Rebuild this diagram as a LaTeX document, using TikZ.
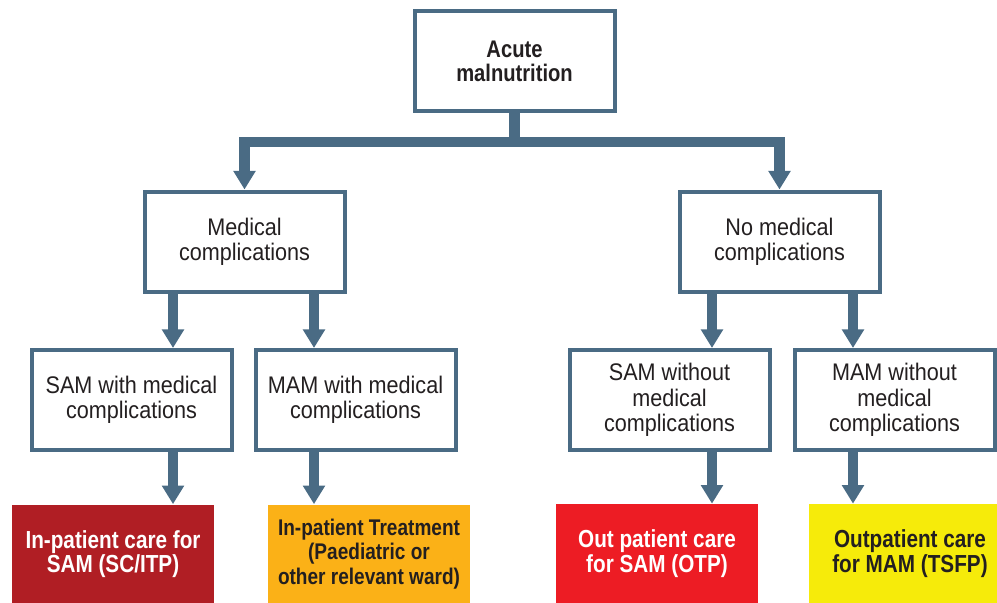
\documentclass[tikz,border=0pt]{standalone}
\usepackage{fontspec}
\setmainfont{Liberation Sans}[FakeStretch=0.9,BoldFeatures={FakeStretch=0.84}]
\usetikzlibrary{arrows.meta}

\definecolor{linkblue}{RGB}{74,107,132}
\definecolor{textdark}{RGB}{35,31,32}
\definecolor{samred}{RGB}{176,30,36}
\definecolor{wardorange}{RGB}{251,177,23}
\definecolor{otpred}{RGB}{237,28,36}
\definecolor{tsfpyellow}{RGB}{246,235,10}

\tikzset{every picture/.style={line width=0.75pt}}
\tikzset{
  box/.style={draw=linkblue, line width=3pt, fill=white, align=center, text=textdark, minimum width=150pt, minimum height=75pt, inner sep=2pt, font=\fontsize{18}{19}\selectfont},
  headbox/.style={box, font=\bfseries\fontsize{18}{18}\selectfont},
  carebox/.style={align=center, minimum width=151.5pt, minimum height=74pt, inner sep=0pt, font=\bfseries\fontsize{18.5}{18.5}\selectfont},
  link/.style={draw=linkblue, line width=8pt, -{Triangle[width=16pt,length=14pt]}},
  bar/.style={draw=linkblue, line width=7.5pt},
}

\begin{document}
\begin{tikzpicture}[x=0.75pt,y=0.75pt,yscale=-1,xscale=1]
\clip (0,0) rectangle (997,603); %picture is 997 x 603

%Shape: Rectangle [top]
\draw (514.5,61) node [headbox] (acute) {Acute\\malnutrition};
%Shape: Rectangle [second row]
\draw (244.5,241.5) node [box] (medical) {Medical\\complications};
\draw (779.5,241.5) node [box] (nomedical) {No medical\\complications};
%Shape: Rectangle [third row]
\draw (131.5,400) node [box] (samwith) {SAM with medical\\complications};
\draw (355.5,400) node [box] (mamwith) {MAM with medical\\complications};
\draw (669.5,400) node [box] (samwithout) {SAM without\\medical\\complications};
\draw (894.5,400) node [box] (mamwithout) {MAM without\\medical\\complications};
%Shape: Rectangle [care]
\draw (113,554) node [carebox, fill=samred, text=white] (itp) {In-patient care for\\SAM (SC/ITP)};
\draw (369,554) node [carebox, fill=wardorange, text=textdark, font=\bfseries\fontsize{17}{18.5}\selectfont] (ward) {In-patient Treatment\\(Paediatric or\\other relevant ward)};
\draw (657,553.5) node [carebox, fill=otpred, text=white] (otp) {Out patient care\\for SAM (OTP)};
\draw (910,553.5) node [carebox, fill=tsfpyellow, text=textdark] (tsfp) {Outpatient care\\for MAM (TSFP)};

%Straight Lines [split]
\coordinate (hub) at (514.5,142);
\draw [link] (acute.south) -- (hub) -| (medical.north);
\draw [link] (hub) -| (nomedical.north);

%Straight Lines [down arrows]
\coordinate (c1) at (173,0);
\coordinate (c2) at (314,0);
\coordinate (c3) at (712,0);
\coordinate (c4) at (853,0);
\draw [link] (medical.south -| c1) -- (samwith.north -| c1);
\draw [link] (medical.south -| c2) -- (mamwith.north -| c2);
\draw [link] (nomedical.south -| c3) -- (samwithout.north -| c3);
\draw [link] (nomedical.south -| c4) -- (mamwithout.north -| c4);
\draw [link] (samwith.south -| c1) -- (itp.north -| c1);
\draw [link] (mamwith.south -| c2) -- (ward.north -| c2);
\draw [link] (samwithout.south -| c3) -- (otp.north -| c3);
\draw [link] (mamwithout.south -| c4) -- (tsfp.north -| c4);

\end{tikzpicture}
\end{document}
